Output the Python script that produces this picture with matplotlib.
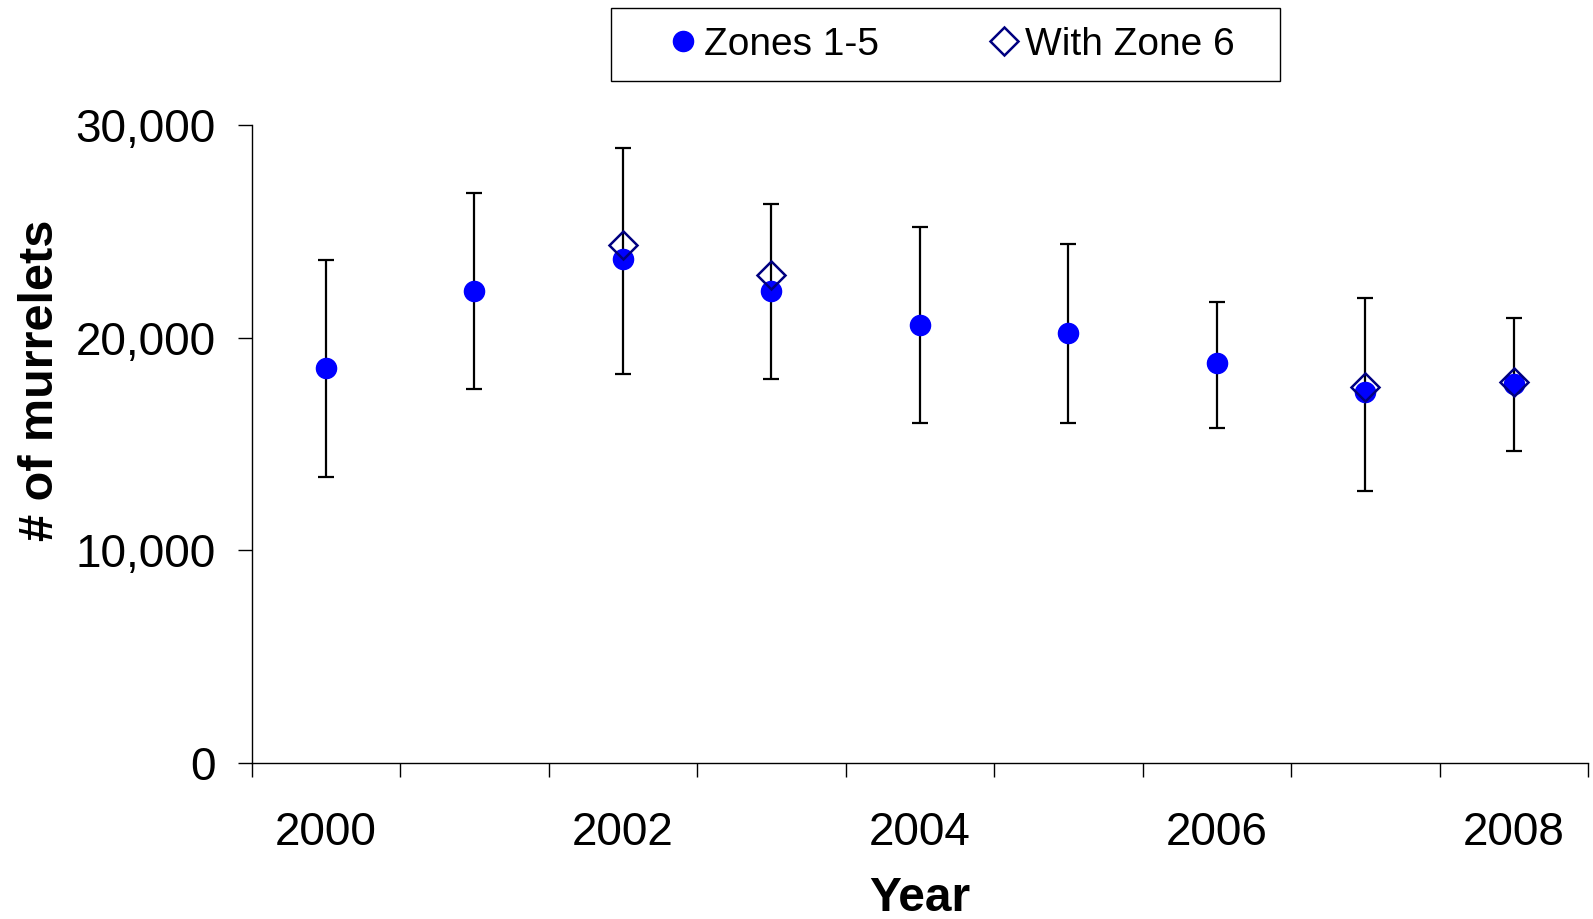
import numpy as np
import matplotlib
matplotlib.use("Agg")
import matplotlib.pyplot as plt
from matplotlib.patches import Rectangle
from matplotlib.ticker import FuncFormatter, FixedLocator

plt.rcParams['font.family'] = ['Liberation Sans', 'DejaVu Sans']

years = [2000, 2001, 2002, 2003, 2004, 2005, 2006, 2007, 2008]
zones_1_5 = [18580, 22210, 23700, 22210, 20590, 20210, 18820, 17440, 17820]
err_low = [13420, 17580, 18300, 18060, 15960, 15960, 15770, 12760, 14670]
err_high = [23650, 26800, 28900, 26270, 25180, 24410, 21690, 21880, 20920]
with_zone6_years = [2002, 2003, 2007, 2008]
with_zone6 = [24360, 22930, 17680, 17920]
year_labels = ['2000', '', '2002', '', '2004', '', '2006', '', '2008']

fig = plt.figure(figsize=(15.93, 9.19), dpi=100)
ax = fig.add_axes([0.158, 0.170, 0.839, 0.694])

x = np.arange(len(years))
z1 = np.array(zones_1_5)
yerr = [z1 - np.array(err_low), np.array(err_high) - z1]

# error bars + zones 1-5 dots
ax.errorbar(x, z1, yerr=yerr, fmt='none', ecolor='black', elinewidth=1.6,
            capsize=5.5, capthick=1.6, zorder=2)
ax.plot(x, z1, linestyle='none', marker='o', markersize=14.5,
        color='#0000FF', label='Zones 1-5', zorder=3)

# with zone 6 diamonds
x6 = [years.index(y) for y in with_zone6_years]
ax.plot(x6, with_zone6, linestyle='none', marker='D', markersize=14,
        markerfacecolor='none', markeredgecolor='#000080', markeredgewidth=1.8,
        label='With Zone 6', zorder=4)

ax.set_xlim(-0.5, len(years) - 0.5)
ax.set_ylim(0, 30000)

# ticks between categories, labels at centres
ax.xaxis.set_major_locator(FixedLocator(np.arange(-0.5, len(years), 1.0)))
ax.xaxis.set_major_formatter(FuncFormatter(lambda v, p: ''))
ax.xaxis.set_minor_locator(FixedLocator(x))
ax.set_xticklabels(year_labels, minor=True)
ax.tick_params(axis='x', which='major', direction='out', length=10, width=1)
ax.tick_params(axis='x', which='minor', length=0, pad=35, labelsize=33)

ax.set_yticks([0, 10000, 20000, 30000])
ax.yaxis.set_major_formatter(FuncFormatter(lambda v, p: f'{int(v):,}'))
ax.tick_params(axis='y', direction='out', length=10, width=1, pad=16, labelsize=33)

for side in ['top', 'right']:
    ax.spines[side].set_visible(False)
for side in ['left', 'bottom']:
    ax.spines[side].set_linewidth(1)

ax.set_xlabel('Year', fontsize=34.5, fontweight='bold', labelpad=15)
ax.set_ylabel('# of murrelets', fontsize=35, fontweight='bold')
ax.yaxis.set_label_coords(-0.141, 0.600)

# legend box drawn separately, entries centred inside
fig.patches.append(Rectangle((0.3835, 0.9119), 0.4199, 0.0794,
                             transform=fig.transFigure, fill=False,
                             edgecolor='black', linewidth=1))
fig.legend(loc='center', bbox_to_anchor=(0.5957, 0.951),
           ncol=2, frameon=False, fontsize=28, handletextpad=0.05,
           columnspacing=2.7, borderpad=0, handlelength=1.0, numpoints=1)

fig.savefig('out.png', dpi=100)
